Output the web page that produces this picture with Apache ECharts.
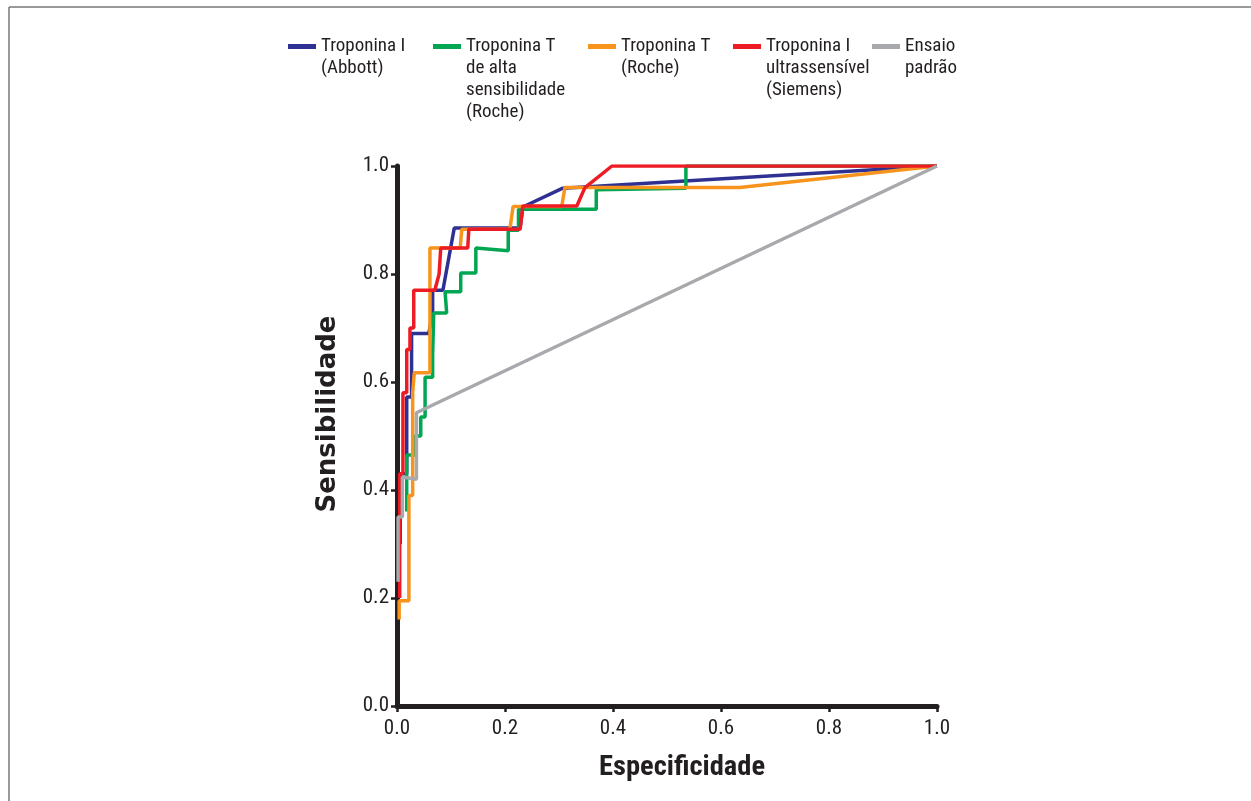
<!DOCTYPE html>
<html><head><meta charset="utf-8">
<script src="https://cdn.jsdelivr.net/npm/echarts@6/dist/echarts.min.js"></script>
<style>html,body{margin:0;padding:0;background:#fff}#c{width:1251px;height:801px}</style>
</head><body><div id="c"></div>
<script>
// ROC curves: [especificidade axis value, sensibilidade]
var abbott = [[0.006,0.30],[0.006,0.43],[0.018,0.43],[0.018,0.572],[0.027,0.572],[0.027,0.69],[0.059,0.69],[0.066,0.73],[0.066,0.77],[0.085,0.77],[0.106,0.885],[0.228,0.885],[0.233,0.924],[0.307,0.959],[1.0,1.0]];
var hsRoche = [[0.018,0.36],[0.018,0.465],[0.033,0.465],[0.033,0.50],[0.044,0.50],[0.044,0.535],[0.052,0.535],[0.052,0.609],[0.066,0.609],[0.066,0.65],[0.068,0.65],[0.068,0.728],[0.092,0.728],[0.089,0.767],[0.118,0.767],[0.118,0.802],[0.146,0.802],[0.146,0.848],[0.206,0.843],[0.206,0.881],[0.225,0.881],[0.225,0.920],[0.369,0.920],[0.369,0.956],[0.535,0.959],[0.535,1.0],[1.0,1.0]];
var roche = [[0.004,0.16],[0.004,0.195],[0.022,0.195],[0.022,0.39],[0.029,0.39],[0.029,0.58],[0.032,0.58],[0.032,0.617],[0.061,0.617],[0.061,0.848],[0.117,0.848],[0.120,0.883],[0.209,0.883],[0.215,0.925],[0.305,0.925],[0.311,0.960],[0.635,0.960],[1.0,1.0]];
var siemens = [[0.005,0.20],[0.005,0.43],[0.011,0.43],[0.011,0.58],[0.018,0.58],[0.018,0.66],[0.024,0.66],[0.024,0.70],[0.031,0.70],[0.031,0.77],[0.070,0.77],[0.078,0.80],[0.081,0.848],[0.131,0.848],[0.133,0.883],[0.228,0.883],[0.233,0.926],[0.333,0.926],[0.348,0.960],[0.398,1.0],[1.0,1.0]];
var standard = [[0.002,0.23],[0.002,0.35],[0.010,0.35],[0.010,0.424],[0.036,0.42],[0.036,0.543],[1.0,1.0]];

var seriesNames = ['Troponina I\n(Abbott)','Troponina T\nde alta\nsensibilidade\n(Roche)','Troponina T\n(Roche)','Troponina I\nultrassensível\n(Siemens)','Ensaio\npadrão'];
var seriesColors = ['#2e3192','#00a651','#f7941d','#ed1c24','#a7a9ac'];
var seriesData = [abbott, hsRoche, roche, siemens, standard];
var legendLeft = [288,433,588,733,872];
var tickLabels = ['0.0','0.2','0.4','0.6','0.8','1.0'];
var xTitle = 'Especificidade';
var yTitle = 'Sensibilidade';

var chart = echarts.init(document.getElementById('c'));
var narrow = "'Roboto Condensed',sans-serif";
var LH = 22;
var ICON_CY = 46.5;
var legends = seriesNames.map(function(n,i){
  var lines = n.split('\n').length;
  var total = 2*lines - 1;
  return {
    data:[n], left: legendLeft[i], top: ICON_CY - total*LH/2, padding:0,
    icon:'rect', itemWidth:28, itemHeight:5, itemGap:0,
    formatter:function(name){ var s=''; for(var k=1;k<lines;k++) s+=' \n'; return s+name; },
    textStyle:{fontFamily:narrow, fontSize:19, color:'#231f20', lineHeight:LH}
  };
});
var axisCommon = {
  type:'value', min:0, max:1, interval:0.2,
  axisLine:{show:true, onZero:false, lineStyle:{color:'#231f20', width:5}},
  axisTick:{show:true, length:6, lineStyle:{color:'#231f20', width:2.5}},
  splitLine:{show:false},
  axisLabel:{fontFamily:narrow, fontSize:21, color:'#231f20', formatter:function(v){return tickLabels[Math.round(v/0.2)];}}
};
chart.setOption({
  animation:false,
  backgroundColor:'#fff',
  legend: legends,
  grid:{left:397, right:314, top:166, bottom:95, containLabel:false},
  xAxis: Object.assign({}, axisCommon, {
    name:xTitle, nameLocation:'middle', nameGap:47,
    nameTextStyle:{fontFamily:narrow, fontWeight:'bold', fontSize:28.5, color:'#231f20', padding:[0,0,0,30]},
    axisLabel:Object.assign({}, axisCommon.axisLabel, {margin:12})
  }),
  yAxis: Object.assign({}, axisCommon, {
    name:yTitle, nameLocation:'middle', nameGap:56,
    nameTextStyle:{fontFamily:"'DejaVu Sans',sans-serif", fontWeight:'bold', fontSize:26, color:'#231f20', padding:[0,0,0,44]},
    axisLabel:Object.assign({}, axisCommon.axisLabel, {margin:8})
  }),
  graphic:[
    {type:'line', shape:{x1:9,y1:7,x2:1251,y2:7}, style:{stroke:'#777',lineWidth:1.5}, silent:true},
    {type:'line', shape:{x1:9,y1:7,x2:9,y2:801}, style:{stroke:'#777',lineWidth:1.5}, silent:true}
  ],
  series: seriesNames.map(function(n,i){
    return {name:n, type:'line', data:seriesData[i], showSymbol:false, symbol:'none',
      lineStyle:{color:seriesColors[i], width:3.5}, itemStyle:{color:seriesColors[i]}, z:2+i};
  })
});
</script></body></html>
